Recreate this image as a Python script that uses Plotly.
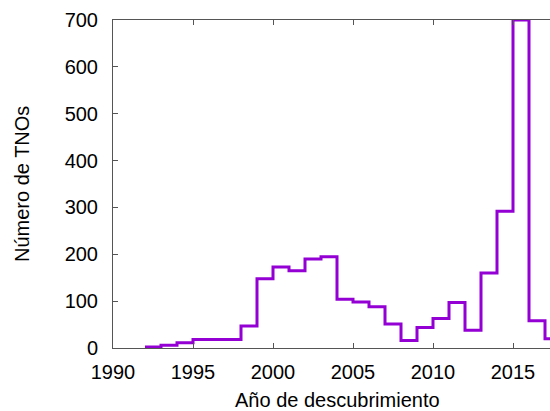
import plotly.graph_objects as go

years = [1992, 1993, 1994, 1995, 1996, 1997, 1998, 1999, 2000, 2001, 2002, 2003,
         2004, 2005, 2006, 2007, 2008, 2009, 2010, 2011, 2012, 2013, 2014, 2015,
         2016, 2017]
counts = [2, 6, 11, 18, 18, 18, 47, 148, 173, 165, 190, 195,
          104, 98, 88, 51, 16, 44, 63, 97, 38, 160, 292, 700,
          58, 20]

x_ticks = [1990, 1995, 2000, 2005, 2010, 2015]
y_ticks = [0, 100, 200, 300, 400, 500, 600, 700]

x_title = "Año de descubrimiento"
y_title = "Número de TNOs"

# step edges: each bin spans [year, year+1)
xs = years + [years[-1] + 1]
ys = counts + [counts[-1]]

fig = go.Figure()
fig.add_trace(go.Scatter(
    x=xs, y=ys, mode="lines",
    line=dict(color="#9400D3", width=3, shape="hv"),
    showlegend=False,
))

axis_font = dict(family="Liberation Sans, Arial, sans-serif", size=20, color="#000000")

L, R, T, B = 113, 0, 20, 63
W, H = 550, 411
pw, ph = W - L - R, H - T - B

fig.update_layout(
    width=W, height=H,
    margin=dict(l=L, r=R, t=T, b=B, autoexpand=False),
    paper_bgcolor="white", plot_bgcolor="white",
    font=axis_font,
    xaxis=dict(
        range=[1990, 1990 + pw / 16],
        tickvals=x_ticks, ticktext=[str(v) for v in x_ticks],
        ticks="inside", ticklen=5, tickcolor="#555555",
        showline=True, linecolor="#555555", linewidth=1, mirror="ticks",
        showgrid=False, zeroline=False,
        tickfont=axis_font, ticklabelstandoff=6,
    ),
    yaxis=dict(
        range=[0, 700],
        tickvals=y_ticks, ticktext=[str(v) for v in y_ticks],
        ticks="inside", ticklen=5, tickcolor="#555555",
        showline=True, linecolor="#555555", linewidth=1,
        showgrid=False, zeroline=False,
        tickfont=axis_font, ticklabelstandoff=10,
    ),
    annotations=[
        dict(text=x_title, xref="paper", yref="paper",
             x=(337 - L) / pw, y=-(400 - (H - B)) / ph,
             xanchor="center", yanchor="middle", showarrow=False, font=axis_font),
        dict(text=y_title, xref="paper", yref="paper",
             x=(22 - L) / pw, y=0.5, textangle=-90,
             xanchor="center", yanchor="middle", showarrow=False, font=axis_font),
    ],
)

fig.write_html("out.html")
